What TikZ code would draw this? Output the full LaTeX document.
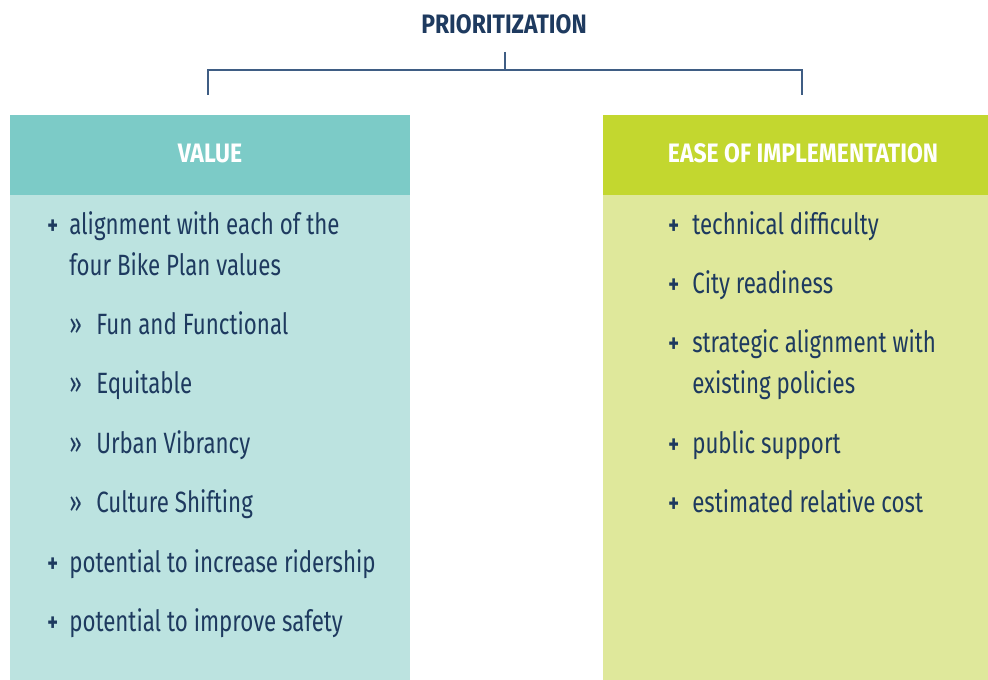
\documentclass[tikz,border=0pt]{standalone}
\usepackage{fontspec}
\setmainfont{Fira Sans}[FakeStretch=0.76]
\newfontfamily\hdrfont{Fira Sans}[FakeStretch=0.86]
\definecolor{navy}{HTML}{1E3A5F}
\definecolor{bracketc}{HTML}{3F5D84}
\definecolor{tealh}{HTML}{7CCBC7}
\definecolor{tealb}{HTML}{BCE3E0}
\definecolor{limeh}{HTML}{C3D72F}
\definecolor{limeb}{HTML}{DFE89B}
\tikzset{
  item/.style={anchor=base west, inner sep=0pt, text=navy, font=\fontsize{22}{26}\selectfont},
  plus/.style={anchor=base west, inner sep=0pt, text=navy, font=\bfseries\fontsize{20}{24}\selectfont},
  hdr/.style={anchor=base, inner sep=0pt, text=white, font=\hdrfont\bfseries\fontsize{20}{24}\selectfont},
  ttl/.style={anchor=base, inner sep=0pt, text=navy, font=\hdrfont\bfseries\fontsize{20}{24}\selectfont},
  brk/.style={draw=bracketc, line width=1.1pt},
}
\begin{document}
\begin{tikzpicture}[x=0.75pt,y=-0.75pt]
\path[use as bounding box] (0,0) rectangle (988,680);
% boxes
\fill[tealh] (10,115) rectangle (410,195);
\fill[tealb] (10,195) rectangle (410,680);
\fill[limeh] (603,115) rectangle (988,195);
\fill[limeb] (603,195) rectangle (988,680);
% title and bracket
\node[ttl] (title) at (504,34) {PRIORITIZATION};
\coordinate (stemtop) at (505,52);
\coordinate (junction) at (505,70);
\coordinate (brL) at (208,95);
\coordinate (brR) at (802,95);
\draw[brk] (stemtop) -- (junction) -| (brL);
\draw[brk] (junction) -| (brR);
% headers
\node[hdr] (valh) at (210,163) {VALUE};
\node[hdr] (easeh) at (803,163) {EASE OF IMPLEMENTATION};
% left items
\node[plus] (lp1) at (47,235) {+};
\node[item] (l1) at (69,235) {alignment with each of the};
\node[item] (l1b) at (69,276) {four Bike Plan values};
\node[item] (ls1) at (69,335) {»};
\node[item] (l2) at (96,335) {Fun and Functional};
\node[item] (ls2) at (69,394) {»};
\node[item] (l3) at (96,394) {Equitable};
\node[item] (ls3) at (69,453) {»};
\node[item] (l4) at (96,453) {Urban Vibrancy};
\node[item] (ls4) at (69,512) {»};
\node[item] (l5) at (96,512) {Culture Shifting};
\node[plus] (lp2) at (47,572) {+};
\node[item] (l6) at (69,572) {potential to increase ridership};
\node[plus] (lp3) at (47,631) {+};
\node[item] (l7) at (69,631) {potential to improve safety};
% right items
\node[plus] (rp1) at (668,235) {+};
\node[item] (r1) at (692,235) {technical difficulty};
\node[plus] (rp2) at (668,294) {+};
\node[item] (r2) at (692,294) {City readiness};
\node[plus] (rp3) at (668,353) {+};
\node[item] (r3) at (692,353) {strategic alignment with};
\node[item] (r3b) at (692,394) {existing policies};
\node[plus] (rp4) at (668,453) {+};
\node[item] (r4) at (692,453) {public support};
\node[plus] (rp5) at (668,512) {+};
\node[item] (r5) at (692,512) {estimated relative cost};
\end{tikzpicture}
\end{document}
